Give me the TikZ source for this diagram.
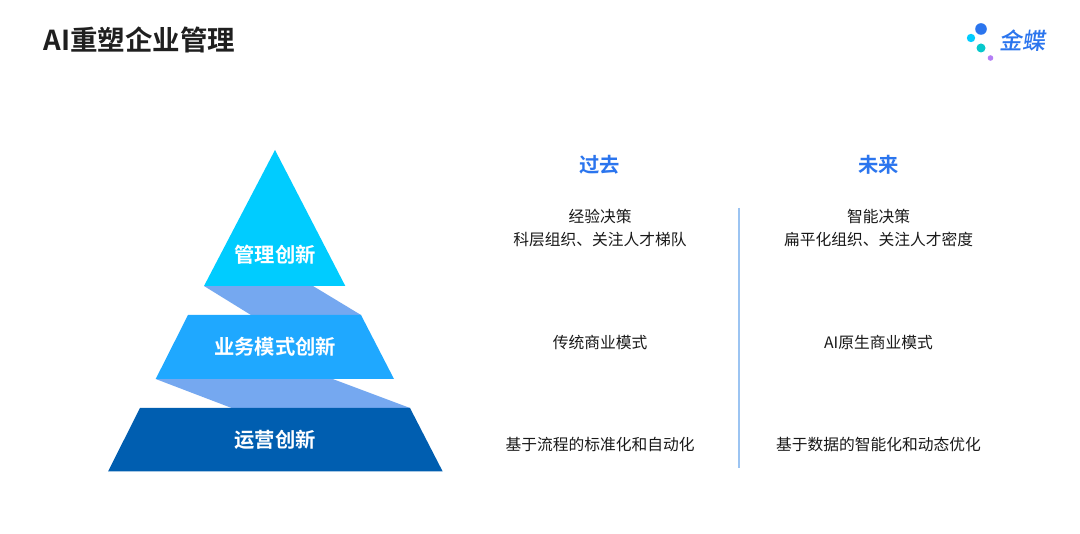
\documentclass[tikz,border=0pt]{standalone}
\usepackage{fontspec}
\setmainfont{Noto Sans CJK SC}
\newfontfamily\cjkbold{Noto Sans CJK SC Bold}
\newfontfamily\cjklogo[FakeSlant=0.15]{Noto Sans CJK SC Medium}
\tikzset{
  x=1pt,y=-1pt,
  txt/.style={inner sep=0pt,align=center,font=\fontsize{15.75}{23}\selectfont,text=black!90},
  head/.style={inner sep=0pt,text=headblue,font=\fontsize{20.3}{24}\cjkbold\selectfont},
  lvl/.style={inner sep=0pt,text=white,font=\fontsize{20.3}{24}\cjkbold\selectfont},
}
\definecolor{headblue}{HTML}{2B75EE}
\definecolor{band}{HTML}{75A8F0}
\definecolor{topc}{HTML}{00CCFF}
\definecolor{midc}{HTML}{1FA8FF}
\definecolor{botc}{HTML}{005EB0}
\definecolor{divc}{HTML}{9CC4F2}
\definecolor{logot}{HTML}{06C8CC}
\definecolor{logop}{HTML}{B47EF5}
\begin{document}
\begin{tikzpicture}
\useasboundingbox (0,0) rectangle (1080,534);
\fill[white] (0,0) rectangle (1080,534);
% pyramid
\fill[band] (204,286) -- (313,286) -- (361,315) -- (251,315) -- cycle;
\fill[band] (155.7,379) -- (332.7,379) -- (410,408) -- (231.7,408) -- cycle;
\fill[topc] (275,150) -- (345.3,286) -- (204,286) -- cycle;
\fill[midc] (188,315) -- (361,315) -- (394,379) -- (155.7,379) -- cycle;
\fill[botc] (140,408) -- (410,408) -- (442.7,471.5) -- (108,471.5) -- cycle;
\node[lvl] (l1) at (275,254.5) {管理创新};
\node[lvl] (l2) at (275,346.5) {业务模式创新};
\node[lvl] (l3) at (275,439.5) {运营创新};
% title
\node[inner sep=0pt,anchor=west,text=black!88,font=\fontsize{27.5}{34}\cjkbold\selectfont] (title) at (43.5,40) {AI重塑企业管理};
% heads
\node[head] (past) at (599.5,165) {过去};
\node[head] (future) at (878.5,165) {未来};
% columns
\node[txt] (p1) at (600,228) {经验决策\\科层组织、关注人才梯队};
\node[txt] (f1) at (878.5,228) {智能决策\\扁平化组织、关注人才密度};
\node[txt] (p2) at (600,342.5) {传统商业模式};
\node[txt] (f2) at (878.5,342.5) {AI原生商业模式};
\node[txt] (p3) at (600,444.5) {基于流程的标准化和自动化};
\node[txt] (f3) at (878.5,444.5) {基于数据的智能化和动态优化};
% divider
\draw[divc,line width=1.1pt] (739,208) -- (739,468);
% logo
\fill[headblue] (981,29) circle (5.8);
\fill[topc] (971,38) circle (4.2);
\fill[logot] (981,48) circle (4.5);
\fill[logop] (990.5,58) circle (2.8);
\node[inner sep=0pt,text=headblue,font=\fontsize{23}{26}\cjklogo\selectfont] (logo) at (1022.5,41) {金蝶};
\end{tikzpicture}
\end{document}
